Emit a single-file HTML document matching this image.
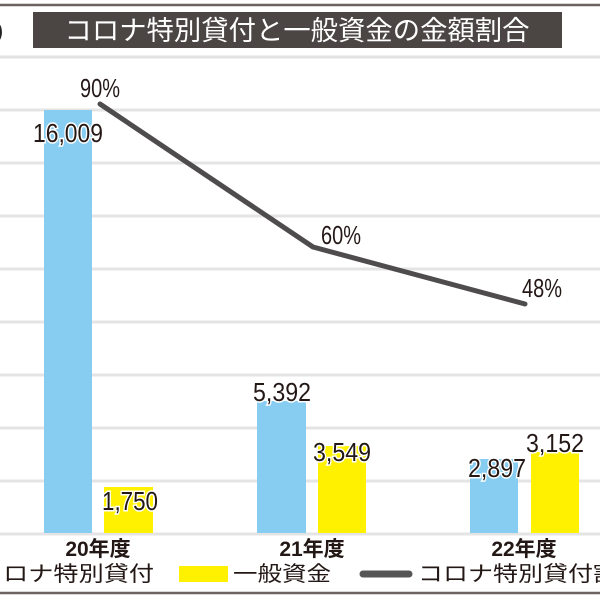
<!DOCTYPE html>
<html><head><meta charset="utf-8"><style>
html,body{margin:0;padding:0;background:#fff;}
svg{display:block;}
</style></head><body>
<svg width="600" height="600" viewBox="0 0 600 600" xmlns="http://www.w3.org/2000/svg">
<rect width="600" height="600" fill="#fff"/>
<line x1="0" y1="5" x2="600" y2="5" stroke="#6b6461" stroke-width="2.5"/>
<rect x="33" y="12" width="529" height="36" fill="#4b4543"/>
<text x="297" y="40" font-family="Liberation Sans, Noto Sans CJK JP, sans-serif" font-size="27" fill="#fff" text-anchor="middle" textLength="465" lengthAdjust="spacingAndGlyphs">コロナ特別貸付と一般資金の金額割合</text>
<text x="-4" y="38" font-family="Liberation Sans, sans-serif" font-size="22" fill="#222">)</text>
<line x1="0" y1="57" x2="600" y2="57" stroke="#e2e2e2" stroke-width="3"/>
<g stroke="#e4e4e4" stroke-width="3">
<line x1="0" y1="110" x2="600" y2="110"/>
<line x1="0" y1="163" x2="600" y2="163"/>
<line x1="0" y1="216" x2="600" y2="216"/>
<line x1="0" y1="269" x2="600" y2="269"/>
<line x1="0" y1="322" x2="600" y2="322"/>
<line x1="0" y1="375" x2="600" y2="375"/>
<line x1="0" y1="428" x2="600" y2="428"/>
<line x1="0" y1="481" x2="600" y2="481"/>
<line x1="0" y1="534" x2="600" y2="534"/>
</g>
<g fill="#86cdf1">
<rect x="44" y="110" width="48" height="423"/>
<rect x="257" y="401" width="49" height="132"/>
<rect x="470" y="459" width="48" height="74"/>
</g>
<g fill="#fff100">
<rect x="104" y="487" width="49" height="46"/>
<rect x="318" y="446" width="48" height="87"/>
<rect x="531" y="452" width="48" height="81"/>
</g>
<polyline points="100,104 313,247 525,304" fill="none" stroke="#4e4c4c" stroke-width="5" stroke-linecap="round" stroke-linejoin="round"/>
<g font-family="Liberation Sans, sans-serif" font-size="26" fill="#231815" stroke="#fff" stroke-width="3" paint-order="stroke" text-anchor="middle">
<text x="68" y="142" textLength="70" lengthAdjust="spacingAndGlyphs">16,009</text>
<text x="282" y="401" textLength="58" lengthAdjust="spacingAndGlyphs">5,392</text>
<text x="497" y="477" textLength="58" lengthAdjust="spacingAndGlyphs">2,897</text>
<text x="130" y="510" textLength="56" lengthAdjust="spacingAndGlyphs">1,750</text>
<text x="342" y="461" textLength="58" lengthAdjust="spacingAndGlyphs">3,549</text>
<text x="555" y="452" textLength="58" lengthAdjust="spacingAndGlyphs">3,152</text>
<text x="100" y="97" textLength="40" lengthAdjust="spacingAndGlyphs">90%</text>
<text x="341" y="244" textLength="40" lengthAdjust="spacingAndGlyphs">60%</text>
<text x="542" y="297" textLength="40" lengthAdjust="spacingAndGlyphs">48%</text>
</g>
<g font-family="Liberation Sans, Noto Sans CJK JP, sans-serif" font-size="21" font-weight="bold" fill="#231815" text-anchor="middle">
<text x="98" y="556">20年度</text>
<text x="312" y="556">21年度</text>
<text x="524" y="556">22年度</text>
</g>
<g font-family="Liberation Sans, Noto Sans CJK JP, sans-serif" font-size="21" fill="#231815">
<text x="-22" y="581" textLength="176" lengthAdjust="spacingAndGlyphs">コロナ特別貸付</text>
<rect x="179" y="566" width="49" height="16" fill="#fff100"/>
<text x="233" y="581" textLength="98" lengthAdjust="spacingAndGlyphs">一般資金</text>
<line x1="363" y1="574" x2="409" y2="574" stroke="#555" stroke-width="7" stroke-linecap="round"/>
<text x="418" y="581" textLength="200" lengthAdjust="spacingAndGlyphs">コロナ特別貸付割</text>
</g>
<line x1="0" y1="593" x2="600" y2="593" stroke="#6b6461" stroke-width="2.5"/>
</svg>
</body></html>
